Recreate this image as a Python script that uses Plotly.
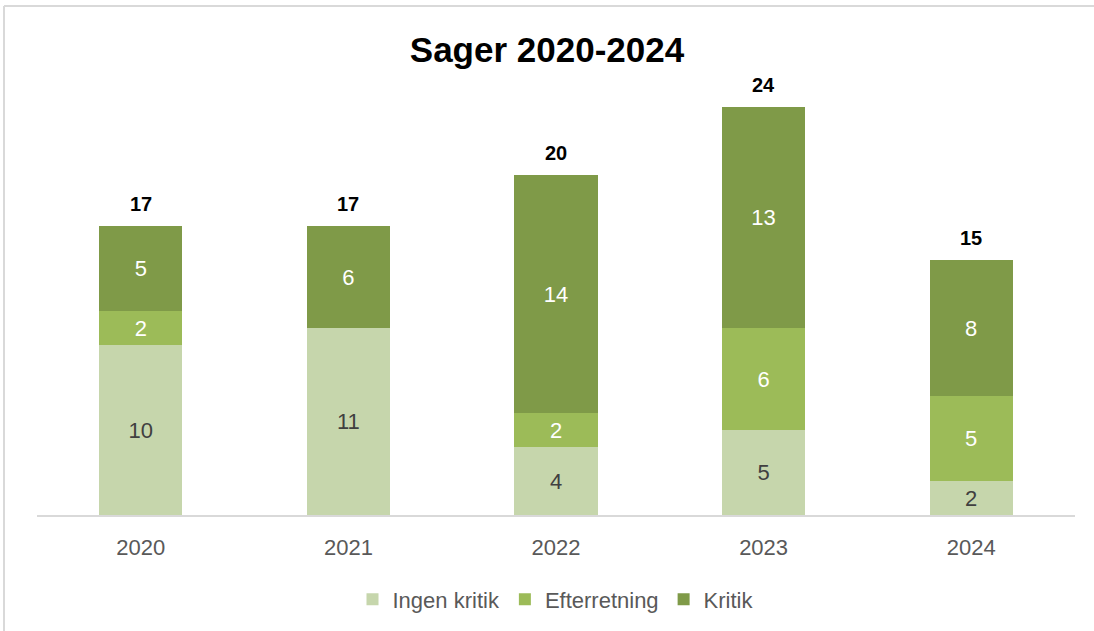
import plotly.graph_objects as go

years = ["2020", "2021", "2022", "2023", "2024"]
ingen_kritik = [10, 11, 4, 5, 2]
efterretning = [2, 0, 2, 6, 5]
kritik = [5, 6, 14, 13, 8]
series_names = ["Ingen kritik", "Efterretning", "Kritik"]
title_text = "Sager 2020-2024"

colors = ["#C6D6AC", "#9CBB58", "#7F9A48"]
text_colors = ["#404040", "#FFFFFF", "#FFFFFF"]
FONT = "Liberation Sans, Arial"

totals = [a + b + c for a, b, c in zip(ingen_kritik, efterretning, kritik)]

fig = go.Figure()
for name, vals, col, tc in zip(series_names, [ingen_kritik, efterretning, kritik], colors, text_colors):
    fig.add_trace(go.Bar(
        x=years, y=vals, name=name,
        marker=dict(color=col, line=dict(width=0)),
        text=[str(v) if v else "" for v in vals],
        textposition="inside", insidetextanchor="middle",
        textfont=dict(family=FONT, size=22, color=tc),
        width=0.4,
    ))

annotations = [
    dict(x=i, y=t, xref="x", yref="y", text="<b>%d</b>" % t, showarrow=False,
         yanchor="bottom", yshift=9, font=dict(family=FONT, size=20, color="#000000"))
    for i, t in enumerate(totals)
]

L, R, T, B = 37, 19, 39, 115
W, H = 1094, 631
pw = W - L - R
ph = H - T - B
bx0 = (4 - L) / pw
by1 = 1 + (T - 6) / ph

fig.update_layout(
    width=W, height=H,
    margin=dict(l=L, r=R, t=T, b=B, pad=0),
    paper_bgcolor="white", plot_bgcolor="white",
    barmode="stack",
    annotations=annotations,
    title=dict(text="<b>" + title_text + "</b>", x=0.5, xanchor="center",
               y=1 - 50 / H, yanchor="middle",
               font=dict(family="Liberation Sans Narrow, Liberation Sans, Arial", size=35, color="#000000")),
    xaxis=dict(type="category", showgrid=False, showline=True, linecolor="#D9D9D9", linewidth=2,
               ticks="", tickfont=dict(family=FONT, size=22, color="#595959"),
               ticklabelstandoff=12,
               range=[-0.5, 4.5], fixedrange=True),
    yaxis=dict(visible=False, range=[0, 28], showgrid=False, zeroline=False),
    legend=dict(orientation="h", x=0.5, xanchor="center", y=-0.175, yanchor="middle",
                font=dict(family=FONT, size=22, color="#595959"),
                traceorder="normal", itemwidth=30),
    showlegend=True,
    shapes=[
        dict(type="line", xref="paper", yref="paper", x0=bx0, x1=(W - L) / pw + 0.01, y0=by1, y1=by1,
             line=dict(color="#D9D9D9", width=2)),
        dict(type="line", xref="paper", yref="paper", x0=bx0, x1=bx0, y0=by1, y1=-0.3,
             line=dict(color="#D9D9D9", width=2)),
    ],
)

fig.write_html("out.html")
